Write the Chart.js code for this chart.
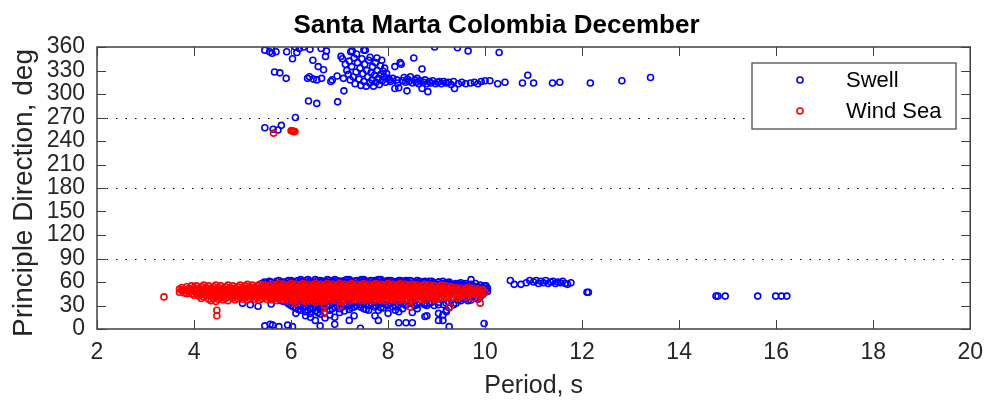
<!DOCTYPE html>
<html>
<head>
<meta charset="utf-8">
<script src="https://cdn.jsdelivr.net/npm/chart.js@4.4.1/dist/chart.umd.min.js"></script>
<style>
  html, body { margin: 0; padding: 0; background: #fff; }
</style>
</head>
<body>
<canvas id="waveChart" width="993" height="403"></canvas>
<script>
const chartTitle = 'Santa Marta Colombia December';
const xTitle = 'Period, s';
const yTitle = 'Principle Direction, deg';
const seriesNames = ['Swell', 'Wind Sea'];
const periodTicks = [2, 4, 6, 8, 10, 12, 14, 16, 18, 20];
const directionTicks = [0, 30, 60, 90, 120, 150, 180, 210, 240, 270, 300, 330, 360];
const referenceDirections = [90, 180, 270];

// swell, main easterly band: [period, dir, dir, ...]
const swellBand = [
  [5.0, 33], [5.16, 31], [5.32, 29], [5.4, 58, 44], [5.5, 59, 48], [5.59, 60, 32, 52],
  [5.7, 58, 61], [5.8, 60, 56, 36], [5.93, 61, 57, 34], [6.0, 59, 62, 36, 30],
  [6.1, 61, 57, 33, 27, 20], [6.2, 60, 63, 35, 29, 24], [6.3, 62, 58, 34, 28, 22, 17],
  [6.4, 61, 57, 32, 26, 20, 15], [6.5, 63, 59, 34, 29, 23, 11], [6.6, 60, 62, 31, 25, 19, 4],
  [6.7, 61, 58, 33, 27, 14], [6.8, 62, 59, 30, 24, 18], [6.9, 63, 60, 34, 28, 15, 6],
  [7.0, 61, 58, 32, 26, 21], [7.1, 62, 59, 33, 23], [7.2, 63, 60, 30, 25, 11],
  [7.3, 61, 58, 34, 28, 17], [7.43, 62, 59, 31, 28, 1], [7.5, 63, 60, 33, 26],
  [7.6, 61, 58, 30, 24], [7.73, 62, 59, 34, 28, 17], [7.8, 63, 60, 31, 11, 24],
  [7.9, 61, 58, 33, 27], [8.0, 62, 59, 30, 20], [8.1, 61, 58, 34, 28],
  [8.22, 62, 60, 31, 22, 8], [8.3, 61, 58, 33, 26], [8.37, 62, 59, 30, 8],
  [8.5, 61, 58, 34, 21, 8], [8.6, 62, 59, 31, 26], [8.76, 61, 58, 33, 16],
  [8.8, 60, 57, 30, 17], [8.9, 61, 58, 34], [9.04, 60, 57, 31, 20, 11],
  [9.13, 61, 58, 18, 11], [9.2, 59, 56, 33, 22, 24], [9.26, 60, 57, 27, 3],
  [9.4, 58, 55, 33], [9.5, 59, 56, 40, 36], [9.6, 58, 55, 38, 44], [9.71, 63, 57, 42, 37],
  [9.8, 58, 54, 46, 40], [9.9, 56, 52, 48, 44, 41], [9.98, 55, 50, 46, 7], [10.05, 52, 48]
];

const swellBandEdge = [
  [5.45, 60], [5.55, 61, 57], [5.65, 59], [5.75, 62, 58], [5.85, 60, 35], [5.95, 62, 58, 32],
  [6.05, 60, 34, 28], [6.15, 62, 58, 31, 25], [6.25, 61, 33, 27], [6.35, 63, 59, 30, 24],
  [6.45, 60, 33, 27], [6.55, 62, 58, 31, 21], [6.65, 61, 34, 28], [6.75, 63, 59, 31],
  [6.85, 61, 33, 26], [6.95, 62, 58, 30], [7.05, 61, 34, 28], [7.15, 63, 59, 31],
  [7.25, 61, 33, 27], [7.35, 62, 58, 30], [7.45, 63, 59, 34], [7.55, 61, 31, 25],
  [7.65, 62, 58, 33], [7.75, 61, 30], [7.85, 63, 59, 34, 27], [7.95, 61, 31],
  [8.05, 62, 58, 33], [8.15, 60, 30, 24], [8.25, 62, 58, 34], [8.35, 61, 31],
  [8.45, 62, 58, 33], [8.55, 60, 30], [8.65, 61, 57, 34], [8.75, 60, 31], [8.85, 61, 57, 33],
  [8.95, 59, 30], [9.05, 60, 56, 34], [9.15, 58, 31], [9.25, 59, 55, 34], [9.35, 57, 31],
  [9.45, 58, 54, 37], [9.55, 57, 39], [9.65, 56, 41, 36], [9.75, 55, 43], [9.85, 54, 38],
  [9.95, 53, 44], [10.02, 50, 55]
];

// swell, scattered points
const swellEastFar = [
  [5.46, 4], [5.57, 6], [5.62, 5], [5.75, 3], [5.93, 5], [6.03, 3],
  [10.52, 62], [10.6, 57], [10.74, 57], [10.85, 59], [10.92, 62], [11.0, 60], [11.05, 62],
  [11.1, 58], [11.15, 61], [11.2, 59], [11.25, 62], [11.3, 58], [11.35, 60], [11.4, 61],
  [11.45, 58], [11.5, 60], [11.55, 59], [11.6, 61], [11.65, 58], [11.7, 57], [11.77, 59],
  [12.1, 47], [12.13, 47], [14.76, 42], [14.8, 42], [14.95, 42], [15.62, 42],
  [15.99, 42], [16.11, 42], [16.22, 42]
];

const swellNorth = [
  [5.46, 356], [5.59, 359], [5.56, 354], [5.61, 352], [5.69, 354], [5.66, 328], [5.77, 327],
  [5.9, 320], [5.91, 354], [6.03, 345], [6.09, 360], [6.12, 353], [6.17, 358], [6.26, 360],
  [6.39, 357], [6.34, 320], [6.38, 322], [6.46, 319], [6.53, 318], [6.63, 320], [6.45, 343],
  [6.56, 335], [6.67, 331], [6.62, 358], [6.73, 355], [6.71, 348], [6.36, 291], [6.53, 288],
  [6.96, 290], [6.09, 270], [6.82, 316], [6.85, 318], [6.95, 323], [7.08, 320], [7.09, 304],
  [7.03, 348], [7.06, 345], [7.23, 354], [7.5, 356],
  [7.12, 338], [7.15, 330], [7.18, 325], [7.2, 342], [7.22, 318], [7.25, 335], [7.26, 355],
  [7.28, 322], [7.3, 346], [7.32, 313], [7.34, 328], [7.35, 351], [7.37, 340], [7.4, 319],
  [7.42, 333], [7.44, 311], [7.46, 345], [7.48, 326], [7.5, 316], [7.52, 338], [7.53, 356],
  [7.55, 310], [7.56, 330], [7.58, 322], [7.6, 343], [7.62, 314], [7.63, 347], [7.65, 327],
  [7.67, 318], [7.68, 335], [7.7, 310], [7.72, 324], [7.74, 340], [7.75, 315], [7.77, 346],
  [7.78, 330], [7.8, 320], [7.82, 312], [7.84, 336], [7.85, 325], [7.87, 343], [7.88, 317],
  [7.9, 329], [7.92, 322], [7.93, 333], [7.95, 315], [7.97, 326], [8.0, 320], [8.03, 318],
  [8.05, 316], [8.1, 320], [8.14, 335], [8.14, 307], [8.18, 318], [8.2, 314], [8.22, 308],
  [8.25, 340], [8.27, 338], [8.3, 317], [8.33, 321], [8.36, 315], [8.39, 304], [8.4, 319],
  [8.43, 316], [8.46, 322], [8.5, 314], [8.53, 346], [8.55, 318], [8.58, 315], [8.6, 320],
  [8.63, 313], [8.66, 317], [8.7, 332], [8.7, 307], [8.73, 315], [8.76, 318], [8.8, 313],
  [8.82, 303], [8.85, 316], [8.88, 314], [8.92, 317], [8.96, 360], [8.98, 313], [9.02, 315],
  [9.06, 316], [9.1, 313], [9.15, 316], [9.2, 314], [9.25, 315], [9.3, 312], [9.37, 307],
  [9.35, 316], [9.43, 359], [9.45, 313], [9.52, 315], [9.6, 313], [9.65, 355], [9.7, 314],
  [9.78, 315], [9.85, 313], [9.92, 316], [10.0, 317], [10.1, 317], [10.26, 313], [10.29, 353],
  [10.41, 315], [10.77, 314], [10.88, 324], [11.0, 314], [11.39, 314], [11.54, 315],
  [12.17, 314], [12.82, 317], [13.41, 321],
  [5.46, 257], [5.63, 255], [5.73, 254], [5.8, 260]
];

// wind sea band: [period, dir, dir, ...]
const windBand = [
  [3.38, 41],
  [3.7, 51, 47], [3.75, 53, 49], [3.8, 50, 46], [3.85, 54, 49, 45], [3.9, 52, 47], [3.95, 55, 50, 45],
  [4.0, 53, 48, 43], [4.05, 55, 50, 45], [4.1, 52, 47, 42], [4.15, 54, 49, 44, 39], [4.2, 56, 51, 46, 41],
  [4.25, 53, 48, 43], [4.3, 55, 50, 45, 38], [4.35, 52, 47, 42, 36], [4.4, 54, 49, 44, 39],
  [4.45, 56, 51, 46, 41, 35], [4.47, 24, 17], [4.5, 53, 48, 43, 38], [4.55, 55, 50, 45, 40],
  [4.6, 52, 47, 42, 37], [4.65, 54, 49, 44, 39], [4.7, 56, 51, 46, 41, 36], [4.75, 53, 48, 43],
  [4.8, 55, 50, 45, 40], [4.85, 52, 47, 42, 37], [4.9, 54, 49, 44, 39], [4.95, 56, 51, 46, 41],
  [5.0, 53, 48, 43, 38], [5.05, 55, 50, 45, 40], [5.1, 57, 52, 47, 42, 37], [5.15, 54, 49, 44, 39],
  [5.2, 56, 51, 46, 41], [5.25, 53, 48, 43, 38], [5.3, 55, 50, 45, 40], [5.35, 57, 52, 47, 42, 37],
  [5.4, 54, 49, 44, 39], [5.45, 56, 51, 46, 41], [5.5, 53, 48, 43, 38], [5.55, 55, 50, 45, 40],
  [5.6, 57, 52, 47, 42, 37], [5.65, 54, 49, 44, 39], [5.7, 56, 51, 46, 41, 36], [5.75, 58, 53, 48, 43, 38],
  [5.8, 55, 50, 45, 40], [5.85, 57, 52, 47, 42, 37], [5.9, 54, 49, 44, 39], [5.95, 56, 51, 46, 41, 36],
  [6.0, 58, 53, 48, 43, 38], [6.05, 55, 50, 45, 40, 35], [6.1, 57, 52, 47, 42, 37, 33], [6.15, 54, 49, 44, 39],
  [6.2, 56, 51, 46, 41, 36], [6.25, 58, 53, 48, 43, 38], [6.3, 55, 50, 45, 40, 35], [6.35, 57, 52, 47, 42, 37],
  [6.4, 54, 49, 44, 39], [6.45, 56, 51, 46, 41, 36], [6.5, 58, 53, 48, 43, 38, 34], [6.55, 55, 50, 45, 40],
  [6.6, 57, 52, 47, 42, 37], [6.65, 54, 49, 44, 39, 35], [6.69, 30, 20], [6.7, 56, 51, 46, 41, 36],
  [6.75, 58, 53, 48, 43, 38], [6.8, 55, 50, 45, 40], [6.85, 57, 52, 47, 42, 37], [6.9, 54, 49, 44, 39],
  [6.95, 56, 51, 46, 41, 36], [7.0, 58, 53, 48, 43, 38], [7.02, 29], [7.05, 55, 50, 45, 40, 35],
  [7.1, 57, 52, 47, 42, 37], [7.15, 54, 49, 44, 39], [7.2, 56, 51, 46, 41, 36], [7.25, 58, 53, 48, 43, 38],
  [7.3, 55, 50, 45, 40], [7.35, 57, 52, 47, 42, 37], [7.4, 54, 49, 44, 39], [7.45, 56, 51, 46, 41, 36],
  [7.5, 58, 53, 48, 43, 38], [7.55, 55, 50, 45, 40], [7.6, 57, 52, 47, 42, 37], [7.65, 54, 49, 44, 39],
  [7.7, 56, 51, 46, 41, 36], [7.75, 58, 53, 48, 43, 38], [7.8, 55, 50, 45, 40], [7.85, 57, 52, 47, 42, 37],
  [7.9, 54, 49, 44, 39], [7.95, 56, 51, 46, 41, 36], [8.0, 58, 53, 48, 43, 38], [8.05, 55, 50, 45, 40],
  [8.1, 57, 52, 47, 42, 37], [8.15, 54, 49, 44, 39], [8.2, 56, 51, 46, 41, 36], [8.25, 58, 53, 48, 43, 38],
  [8.3, 55, 50, 45, 40], [8.35, 57, 52, 47, 42, 37], [8.4, 54, 49, 44, 39], [8.45, 56, 51, 46, 41, 28],
  [8.5, 57, 52, 47, 42, 37], [8.55, 54, 49, 44, 39], [8.6, 56, 51, 46, 41], [8.65, 53, 48, 43, 38],
  [8.7, 55, 50, 45, 40], [8.75, 57, 52, 47, 42, 37], [8.8, 54, 49, 44, 39], [8.85, 56, 51, 46, 41],
  [8.9, 53, 48, 43, 38], [8.95, 55, 50, 45, 40], [9.0, 52, 47, 42, 38], [9.05, 54, 49, 44, 39],
  [9.1, 56, 51, 46, 41], [9.15, 53, 48, 43], [9.2, 55, 50, 45, 40], [9.25, 52, 47, 42], [9.27, 28],
  [9.3, 54, 49, 44, 39], [9.35, 51, 46, 41], [9.4, 53, 48, 43], [9.45, 50, 45, 40], [9.5, 52, 47, 42],
  [9.55, 49, 44], [9.6, 51, 46, 41], [9.65, 53, 48, 43], [9.7, 50, 45], [9.75, 52, 47, 40],
  [9.8, 49, 44], [9.85, 51, 46], [9.9, 48, 43, 33], [9.95, 50, 45], [10.0, 47]
];

const windWest = [[5.64, 250], [6.0, 253], [6.03, 253], [6.05, 252], [6.08, 252]];

const fromColumns = (cols) => cols.flatMap(([t, ...dirs]) => dirs.map(d => ({ x: t, y: d })));
const fromPairs = (list) => list.map(([t, d]) => ({ x: t, y: d }));

const swellPoints = fromColumns(swellBand).concat(
    fromColumns(swellBandEdge), fromPairs(swellEastFar), fromPairs(swellNorth));
const windPoints = fromColumns(windBand).concat(fromPairs(windWest));

const FONT = "'Liberation Sans', Arial, Helvetica, sans-serif";
const AXIS_COLOR = '#404040';
const TEXT_COLOR = '#262626';

const matlabFrame = {
    id: 'matlabFrame',
    beforeDatasetsDraw(chart) {
        const { ctx, chartArea: a, scales: { y } } = chart;
        ctx.save();
        ctx.strokeStyle = '#000';
        ctx.lineWidth = 1;
        ctx.setLineDash([1.5, 8]);
        referenceDirections.forEach(d => {
            const py = Math.round(y.getPixelForValue(d)) + 0.5;
            ctx.beginPath();
            ctx.moveTo(a.left, py);
            ctx.lineTo(a.right, py);
            ctx.stroke();
        });
        ctx.restore();
    },
    afterDraw(chart) {
        const { ctx, chartArea: a, scales: { x, y } } = chart;
        ctx.save();
        ctx.strokeStyle = AXIS_COLOR;
        ctx.lineWidth = 1.5;
        ctx.strokeRect(a.left, a.top, a.right - a.left, a.bottom - a.top);
        ctx.lineWidth = 1;
        ctx.beginPath();
        periodTicks.forEach(v => {
            const px = Math.round(x.getPixelForValue(v)) + 0.5;
            ctx.moveTo(px, a.bottom); ctx.lineTo(px, a.bottom - 9);
            ctx.moveTo(px, a.top); ctx.lineTo(px, a.top + 9);
        });
        directionTicks.forEach(v => {
            const py = Math.round(y.getPixelForValue(v)) + 0.5;
            ctx.moveTo(a.left, py); ctx.lineTo(a.left + 9, py);
            ctx.moveTo(a.right, py); ctx.lineTo(a.right - 9, py);
        });
        ctx.stroke();

        // titles
        ctx.fillStyle = '#000';
        ctx.textAlign = 'center';
        ctx.textBaseline = 'alphabetic';
        ctx.font = 'bold 26px ' + FONT;
        ctx.fillText(chartTitle, chart.width / 2, 33);
        ctx.fillStyle = TEXT_COLOR;
        ctx.font = '25px ' + FONT;
        ctx.fillText(xTitle, (a.left + a.right) / 2, 393);
        ctx.save();
        ctx.translate(32, (a.top + a.bottom) / 2 + 5);
        ctx.rotate(-Math.PI / 2);
        ctx.font = '28px ' + FONT;
        ctx.fillText(yTitle, 0, 0);
        ctx.restore();

        // legend
        const lx = 752, ly = 63, lw = 204, lh = 66;
        ctx.fillStyle = '#fff';
        ctx.fillRect(lx, ly, lw, lh);
        ctx.strokeStyle = AXIS_COLOR;
        ctx.lineWidth = 1.2;
        ctx.strokeRect(lx, ly, lw, lh);
        const colors = ['#0000ff', '#ff0000'];
        seriesNames.forEach((name, i) => {
            const cy = ly + 17 + i * 31;
            ctx.beginPath();
            ctx.lineWidth = 1.6;
            ctx.strokeStyle = colors[i];
            ctx.arc(lx + 48, cy, 3, 0, Math.PI * 2);
            ctx.stroke();
            ctx.fillStyle = '#000';
            ctx.textAlign = 'left';
            ctx.textBaseline = 'middle';
            ctx.font = '22px ' + FONT;
            ctx.fillText(name, lx + 94, cy + 1);
        });
        ctx.restore();
    }
};

new Chart(document.getElementById('waveChart'), {
    type: 'scatter',
    data: {
        datasets: [
            {
                label: seriesNames[0],
                data: swellPoints,
                borderColor: '#0000ff',
                backgroundColor: 'rgba(0,0,0,0)',
                pointRadius: 3,
                borderWidth: 1.6,
                order: 2
            },
            {
                label: seriesNames[1],
                data: windPoints,
                borderColor: '#ff0000',
                backgroundColor: 'rgba(0,0,0,0)',
                pointRadius: 3,
                borderWidth: 1.6,
                order: 1
            }
        ]
    },
    options: {
        responsive: false,
        animation: false,
        events: [],
        layout: { padding: { top: 47, right: 15, left: 0, bottom: 0 } },
        plugins: {
            legend: { display: false },
            title: { display: false },
            tooltip: { enabled: false }
        },
        scales: {
            x: {
                type: 'linear',
                min: 2,
                max: 20,
                afterBuildTicks: s => { s.ticks = periodTicks.map(v => ({ value: v })); },
                afterFit: s => { s.height = 74; },
                grid: { display: false, drawTicks: false },
                border: { display: false },
                ticks: { color: TEXT_COLOR, font: { family: FONT, size: 23 }, padding: 10, maxRotation: 0, autoSkip: false }
            },
            y: {
                type: 'linear',
                min: 0,
                max: 360,
                afterBuildTicks: s => { s.ticks = directionTicks.map(v => ({ value: v })); },
                afterFit: s => { s.width = 97; },
                grid: { display: false, drawTicks: false },
                border: { display: false },
                ticks: { color: TEXT_COLOR, font: { family: FONT, size: 23 }, padding: 12, autoSkip: false }
            }
        }
    },
    plugins: [matlabFrame]
});
</script>
</body>
</html>
